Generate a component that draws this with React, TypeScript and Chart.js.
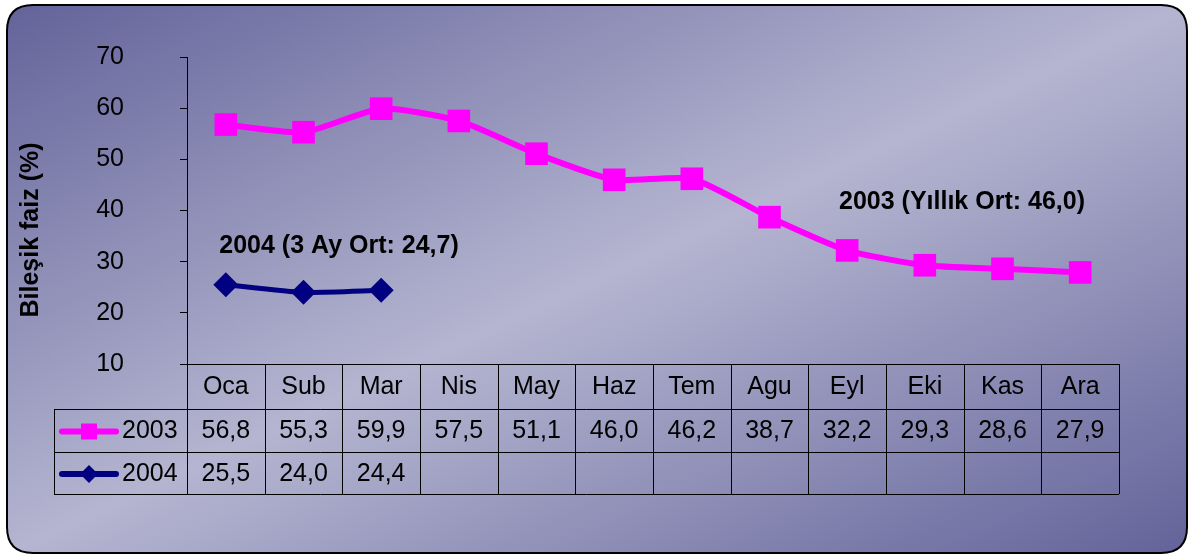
import React, { useEffect, useRef } from "react";
import { Chart, registerables } from "chart.js";

Chart.register(...registerables);

const categories = ["Oca", "Sub", "Mar", "Nis", "May", "Haz", "Tem", "Agu", "Eyl", "Eki", "Kas", "Ara"];
const series2003 = [56.8, 55.3, 59.9, 57.5, 51.1, 46.0, 46.2, 38.7, 32.2, 29.3, 28.6, 27.9];
const series2004: (number | null)[] = [25.5, 24.0, 24.4, null, null, null, null, null, null, null, null, null];
const seriesNames = ["2003", "2004"];
const yMin = 10;
const yMax = 70;
const yStep = 10;
const yAxisTitle = "Bileşik faiz (%)";
const note2003 = "2003 (Yıllık Ort: 46,0)";
const note2004 = "2004 (3 Ay Ort: 24,7)";

const W = 1192;
const H = 557;
const FONT = "'Liberation Sans', Arial, sans-serif";
const FS = 25;
const MAGENTA = "#FF00FF";
const NAVY = "#000080";

function fmt(v: number | null) {
  if (v === null || v === undefined) return "";
  return v.toFixed(1).replace(".", ",");
}

function roundRect(ctx: CanvasRenderingContext2D, x: number, y: number, w: number, h: number, r: number) {
  ctx.beginPath();
  ctx.moveTo(x + r, y);
  ctx.lineTo(x + w - r, y);
  ctx.quadraticCurveTo(x + w, y, x + w, y + r);
  ctx.lineTo(x + w, y + h - r);
  ctx.quadraticCurveTo(x + w, y + h, x + w - r, y + h);
  ctx.lineTo(x + r, y + h);
  ctx.quadraticCurveTo(x, y + h, x, y + h - r);
  ctx.lineTo(x, y + r);
  ctx.quadraticCurveTo(x, y, x + r, y);
  ctx.closePath();
}

const backgroundPlugin = {
  id: "bgPanel",
  beforeDraw(chart: any) {
    const ctx: CanvasRenderingContext2D = chart.ctx;
    ctx.save();
    ctx.fillStyle = "#ffffff";
    ctx.fillRect(0, 0, W, H);
    const x = 7, y = 5, w = 1180, h = 548;
    const cx = x + w / 2, cy = y + h / 2;
    const f = (w * h) / (w * w + h * h);
    const dx = f * h, dy = f * w;
    const g = ctx.createLinearGradient(cx - dx, cy - dy, cx + dx, cy + dy);
    g.addColorStop(0, "#63639a");
    g.addColorStop(0.5, "#b5b5d1");
    g.addColorStop(1, "#63639a");
    roundRect(ctx, x, y, w, h, 26);
    ctx.fillStyle = g;
    ctx.fill();
    ctx.lineWidth = 2;
    ctx.strokeStyle = "#000000";
    ctx.stroke();
    ctx.restore();
  },
};

const tablePlugin = {
  id: "dataTable",
  afterDraw(chart: any) {
    const ctx: CanvasRenderingContext2D = chart.ctx;
    const ca = chart.chartArea;
    const xs = chart.scales.x;
    const n = categories.length;
    const colW = (ca.right - ca.left) / n;
    const legendLeft = 54;
    const rows = [ca.bottom, ca.bottom + 45, ca.bottom + 88, ca.bottom + 130];
    const px = (v: number) => Math.round(v) + 0.5;

    ctx.save();
    ctx.strokeStyle = "#000000";
    ctx.lineWidth = 1;
    ctx.beginPath();
    ctx.moveTo(ca.left, px(rows[0]));
    ctx.lineTo(ca.right, px(rows[0]));
    for (let r = 1; r < rows.length; r++) {
      ctx.moveTo(legendLeft, px(rows[r]));
      ctx.lineTo(ca.right, px(rows[r]));
    }
    for (let i = 0; i <= n; i++) {
      const xx = px(ca.left + i * colW);
      ctx.moveTo(xx, rows[0]);
      ctx.lineTo(xx, rows[3]);
    }
    ctx.moveTo(px(legendLeft), rows[1]);
    ctx.lineTo(px(legendLeft), rows[3]);
    ctx.stroke();

    ctx.fillStyle = "#000000";
    ctx.font = `${FS}px ${FONT}`;
    ctx.textAlign = "center";
    ctx.textBaseline = "middle";
    const mid = (a: number, b: number) => (a + b) / 2 + 1;
    categories.forEach((c, i) => {
      ctx.fillText(c, xs.getPixelForValue(i), mid(rows[0], rows[1]));
    });
    const allSeries = [series2003, series2004];
    allSeries.forEach((s, r) => {
      s.forEach((v, i) => {
        ctx.fillText(fmt(v as number | null), xs.getPixelForValue(i), mid(rows[r + 1], rows[r + 2]));
      });
    });

    const colors = [MAGENTA, NAVY];
    seriesNames.forEach((name, r) => {
      const cy = mid(rows[r + 1], rows[r + 2]);
      ctx.strokeStyle = colors[r];
      ctx.lineWidth = 6;
      ctx.lineCap = "round";
      ctx.beginPath();
      ctx.moveTo(62, cy);
      ctx.lineTo(116, cy);
      ctx.stroke();
      ctx.fillStyle = colors[r];
      if (r === 0) {
        ctx.fillRect(89 - 8, cy - 8, 16, 16);
      } else {
        ctx.beginPath();
        ctx.moveTo(89, cy - 9);
        ctx.lineTo(98, cy);
        ctx.lineTo(89, cy + 9);
        ctx.lineTo(80, cy);
        ctx.closePath();
        ctx.fill();
      }
      ctx.fillStyle = "#000000";
      ctx.textAlign = "left";
      ctx.fillText(name, 122, cy);
    });

    ctx.save();
    ctx.translate(31, 230);
    ctx.rotate(-Math.PI / 2);
    ctx.textAlign = "center";
    ctx.textBaseline = "middle";
    ctx.font = `bold ${FS}px ${FONT}`;
    ctx.fillText(yAxisTitle, 0, 0);
    ctx.restore();

    ctx.font = `bold ${FS}px ${FONT}`;
    ctx.textAlign = "center";
    ctx.textBaseline = "middle";
    ctx.fillText(note2004, 339, 246);
    ctx.fillText(note2003, 962, 202);
    ctx.restore();
  },
};

export default function App() {
  const ref = useRef<HTMLCanvasElement | null>(null);
  useEffect(() => {
    if (!ref.current) return;
    const chart = new Chart(ref.current, {
      type: "line",
      data: {
        labels: categories,
        datasets: [
          {
            label: seriesNames[0],
            data: series2003,
            borderColor: MAGENTA,
            backgroundColor: MAGENTA,
            borderWidth: 6,
            pointStyle: "rect",
            pointRadius: 16,
            pointBorderWidth: 0,
            pointBackgroundColor: MAGENTA,
            tension: 0.2,
          },
          {
            label: seriesNames[1],
            data: series2004,
            borderColor: NAVY,
            backgroundColor: NAVY,
            borderWidth: 5,
            pointStyle: "rectRot",
            pointRadius: 12.5,
            pointBorderWidth: 0,
            pointBackgroundColor: NAVY,
            tension: 0.2,
          },
        ],
      },
      options: {
        responsive: false,
        animation: false,
        layout: { padding: { top: 57, right: 73, bottom: 193, left: 0 } },
        plugins: {
          legend: { display: false },
          tooltip: { enabled: false },
          title: { display: false },
        },
        scales: {
          x: {
            type: "category",
            display: false,
            offset: true,
          },
          y: {
            min: yMin,
            max: yMax,
            afterFit: (scale: any) => {
              scale.width = 187;
              scale.paddingTop = 0;
              scale.paddingBottom = 0;
            },
            ticks: {
              stepSize: yStep,
              padding: 56,
              color: "#000000",
              font: { family: FONT, size: FS },
            },
            grid: {
              display: true,
              drawOnChartArea: false,
              drawTicks: true,
              tickLength: 7,
              color: "#000000",
              lineWidth: 1,
            },
            border: { display: true, color: "#000000", width: 1 },
          },
        },
      },
      plugins: [backgroundPlugin, tablePlugin],
    });
    return () => chart.destroy();
  }, []);
  return (
    <div style={{ position: "fixed", left: 0, top: 0, width: W, height: H }}>
      <canvas ref={ref} width={W} height={H} style={{ width: W, height: H, display: "block" }} />
    </div>
  );
}
